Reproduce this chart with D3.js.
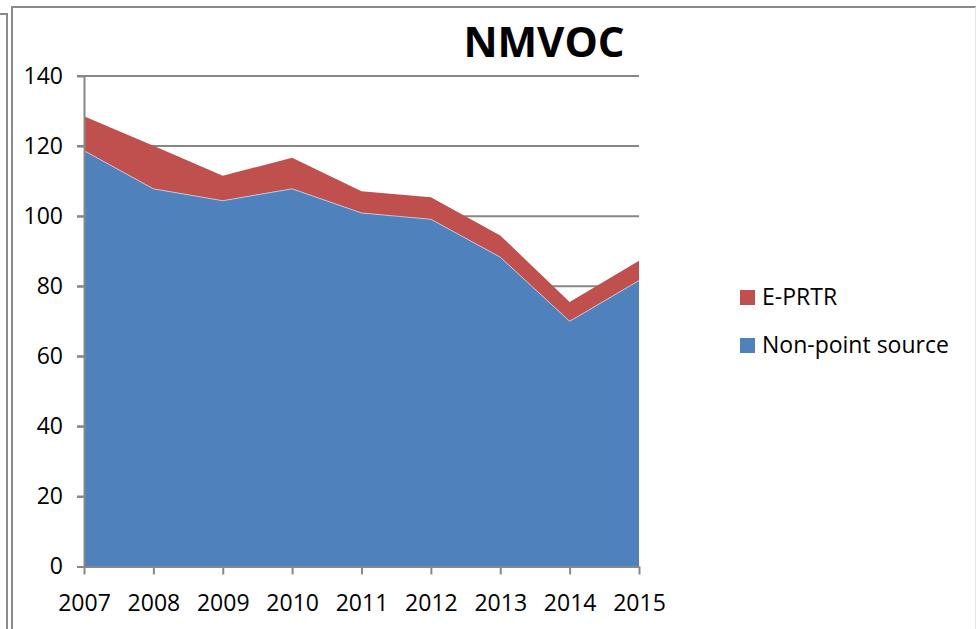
<!DOCTYPE html>
<html>
<head>
<meta charset="utf-8">
<script src="https://cdn.jsdelivr.net/npm/d3@7"></script>
<style>
  body { margin: 0; background: #fff; }
  svg { display: block; font-family: "Open Sans", "Liberation Sans", sans-serif; }
</style>
</head>
<body>
<div id="chart"></div>
<script>
const years = [2007, 2008, 2009, 2010, 2011, 2012, 2013, 2014, 2015];
const nonPoint = [118.7, 107.8, 104.4, 107.8, 100.9, 99.1, 88.3, 70.0, 81.6];
const eprtr = [9.8, 12.3, 7.1, 8.9, 6.2, 6.3, 6.2, 5.5, 5.7];
const yTicks = [0, 20, 40, 60, 80, 100, 120, 140];
const seriesNames = ['Non-point source', 'E-PRTR'];
const colors = { 'Non-point source': '#4F81BD', 'E-PRTR': '#C0504D' };

const width = 976, height = 629;
const margin = { left: 84, right: 337, top: 76, bottom: 62 };

const svg = d3.select('#chart')
  .append('svg')
  .attr('width', width)
  .attr('height', height);

// frames
const frameColor = '#8a8a8a';
svg.append('path')
  .attr('d', 'M0,14 H7 V629')
  .attr('fill', 'none').attr('stroke', frameColor).attr('stroke-width', 2);
svg.append('path')
  .attr('d', 'M12,629 V7 H976')
  .attr('fill', 'none').attr('stroke', frameColor).attr('stroke-width', 2);
svg.append('line')
  .attr('x1', 975.5).attr('x2', 975.5).attr('y1', 7).attr('y2', 629)
  .attr('stroke', '#e4e4e4').attr('stroke-width', 1);

const x = d3.scalePoint()
  .domain(years)
  .range([margin.left, width - margin.right]);

const y = d3.scaleLinear()
  .domain([0, 140])
  .range([height - margin.bottom - 0.5, margin.top]);

// gridlines
svg.append('g')
  .selectAll('line')
  .data(yTicks.filter(d => d > 0))
  .join('line')
  .attr('x1', margin.left - 7)
  .attr('x2', width - margin.right)
  .attr('y1', d => y(d))
  .attr('y2', d => y(d))
  .attr('stroke', '#878787')
  .attr('stroke-width', 2);

// stacked areas
const table = years.map((yr, i) => ({
  year: yr,
  'Non-point source': nonPoint[i],
  'E-PRTR': eprtr[i]
}));
const stacked = d3.stack().keys(seriesNames)(table);

const area = d3.area()
  .x(d => x(d.data.year))
  .y0(d => y(d[0]))
  .y1(d => y(d[1]));

svg.append('g')
  .selectAll('path')
  .data(stacked)
  .join('path')
  .attr('fill', d => colors[d.key])
  .attr('d', area);

// faint edge between series
svg.append('path')
  .datum(stacked[0])
  .attr('fill', 'none')
  .attr('stroke', '#c9d5e6')
  .attr('stroke-width', 0.8)
  .attr('d', d3.line().x(d => x(d.data.year)).y(d => y(d[1])));

// y axis
const yAxis = svg.append('g')
  .attr('transform', `translate(${margin.left},0)`)
  .call(d3.axisLeft(y).tickValues(yTicks).tickSize(7).tickPadding(14).tickSizeOuter(0));
yAxis.select('.domain').attr('stroke', '#878787').attr('stroke-width', 2);
yAxis.selectAll('.tick line').attr('stroke', '#878787').attr('stroke-width', 2);
yAxis.selectAll('text')
  .attr('fill', '#000')
  .style('font-size', '23px')
  .style('font-family', '"Open Sans", sans-serif');

// x axis
const xAxis = svg.append('g')
  .attr('transform', `translate(0,${y(0)})`)
  .call(d3.axisBottom(x).tickSize(8).tickPadding(20).tickSizeOuter(0));
xAxis.select('.domain').attr('stroke', '#878787').attr('stroke-width', 2);
xAxis.selectAll('.tick line').attr('stroke', '#878787').attr('stroke-width', 2);
xAxis.selectAll('text')
  .attr('fill', '#000')
  .style('font-size', '23px')
  .style('font-family', '"Open Sans", sans-serif');

// title
svg.append('text')
  .attr('x', 544)
  .attr('y', 57)
  .attr('text-anchor', 'middle')
  .style('font-size', '42px')
  .style('font-weight', 'bold')
  .attr('fill', '#000')
  .text('NMVOC');

// legend
const legendItems = ['E-PRTR', 'Non-point source'];
const legend = svg.append('g')
  .selectAll('g')
  .data(legendItems)
  .join('g')
  .attr('transform', (d, i) => `translate(740,${290 + i * 48})`);
legend.append('rect')
  .attr('width', 15)
  .attr('height', 15)
  .attr('fill', d => colors[d]);
legend.append('text')
  .attr('x', 22)
  .attr('y', 15)
  .style('font-size', '23px')
  .attr('fill', '#000')
  .text(d => d);
</script>
</body>
</html>
